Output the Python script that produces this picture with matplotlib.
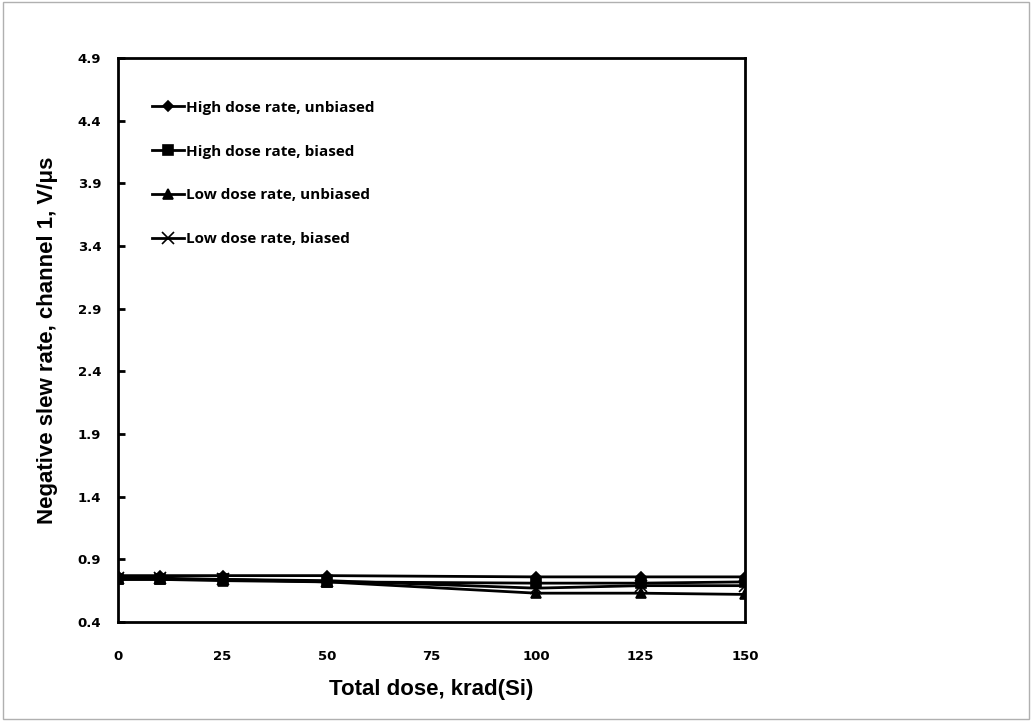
import matplotlib
matplotlib.use('Agg')
import matplotlib.pyplot as plt
from matplotlib.patches import Rectangle

# Data
dose = [0, 10, 25, 50, 100, 125, 150]
high_unbiased = [0.77, 0.77, 0.77, 0.77, 0.76, 0.76, 0.76]
high_biased = [0.74, 0.74, 0.74, 0.72, 0.71, 0.71, 0.72]
low_unbiased = [0.74, 0.74, 0.73, 0.72, 0.63, 0.63, 0.62]
low_biased = [0.75, 0.75, 0.74, 0.73, 0.67, 0.69, 0.69]

labels = ['High dose rate, unbiased', 'High dose rate, biased',
          'Low dose rate, unbiased', 'Low dose rate, biased']
markers = ['D', 's', '^', 'x']
sizes = [5, 7, 7, 8]
yticks = [0.4, 0.9, 1.4, 1.9, 2.4, 2.9, 3.4, 3.9, 4.4, 4.9]
xticks = [0, 25, 50, 75, 100, 125, 150]

fig = plt.figure(figsize=(10.32, 7.21), dpi=100)
ax = fig.add_axes([118/1032, 99/721, (745-118)/1032, (622-58)/721])

series = [high_unbiased, high_biased, low_unbiased, low_biased]
for vals, lab, m, s in zip(series, labels, markers, sizes):
    ax.plot(dose, vals, color='black', linewidth=2, marker=m, markersize=s,
            markeredgewidth=1.2, label=lab)

ax.set_xlim(0, 150)
ax.set_ylim(0.4, 4.9)
ax.set_xticks(xticks)
ax.set_yticks(yticks)
ax.set_yticklabels([f'{v:.1f}' for v in yticks])
ax.tick_params(direction='in', length=5, width=2, pad=12,
               labelsize=9.5)
ax.tick_params(axis='x', length=0, pad=20)
for lbl in ax.get_xticklabels() + ax.get_yticklabels():
    lbl.set_fontweight('bold')
    lbl.set_family('DejaVu Sans')
for sp in ax.spines.values():
    sp.set_linewidth(2)

ax.set_xlabel('Total dose, krad(Si)', fontsize=16, fontweight='bold',
              family='Liberation Sans', labelpad=12)
ax.set_ylabel('Negative slew rate, channel 1, V/\u03bcs', fontsize=16,
              fontweight='bold', family='Liberation Sans', labelpad=14)

leg = ax.legend(loc='upper left', bbox_to_anchor=(0.045, 0.935), frameon=False,
                handlelength=2.1, handletextpad=0.1, labelspacing=1.95,
                borderaxespad=0,
                prop={'family': 'Open Sans', 'weight': 'bold', 'size': 11})

# light grey border around the whole figure
fig.patches.append(Rectangle((0.003, 0.003), 0.994, 0.994, transform=fig.transFigure,
                             fill=False, edgecolor='#b0b0b0', linewidth=1))

fig.savefig('out.png', dpi=100)
